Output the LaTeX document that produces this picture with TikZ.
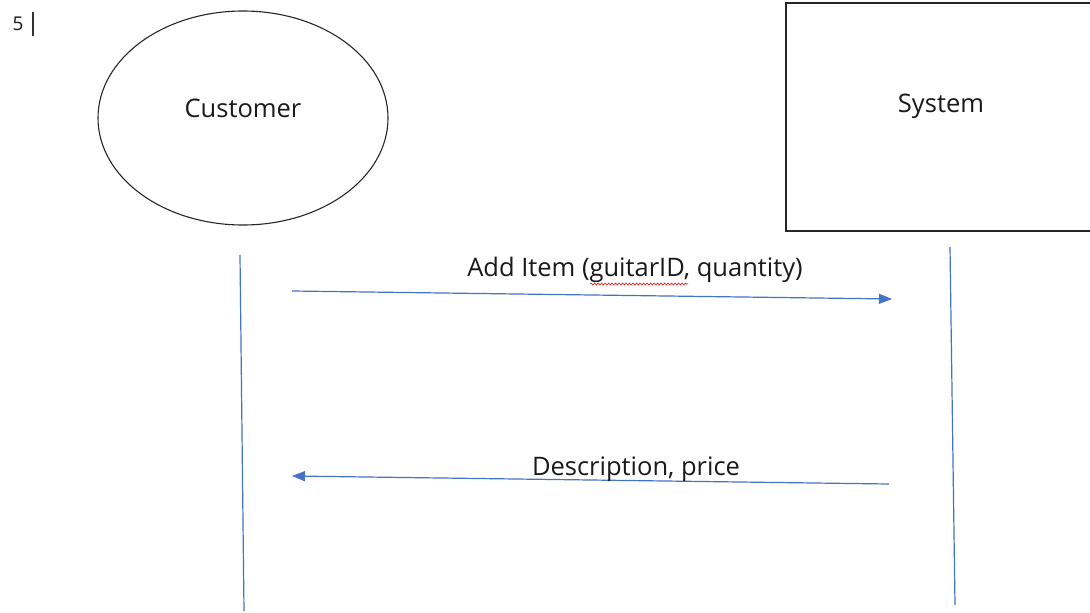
\documentclass[tikz,border=0pt]{standalone}
\usepackage{fontspec}
\setmainfont{Open Sans}
\usetikzlibrary{arrows.meta,decorations.pathmorphing}
\definecolor{lineblue}{HTML}{4472C4}
\definecolor{txt}{HTML}{1A1A1A}
\tikzset{
  lbl/.style={font=\fontsize{25.5}{30}\selectfont, text=txt, inner sep=0pt},
  small/.style={font=\fontsize{19}{23}\selectfont, text=txt, inner sep=0pt},
  life/.style={draw=lineblue, line width=1.2pt},
  msg/.style={draw=lineblue, line width=1.2pt, -{Triangle[length=13pt,width=10pt]}},
}
\begin{document}
\begin{tikzpicture}[x=1pt,y=-1pt]
\useasboundingbox[fill=white] (0,0) rectangle (1090,613);
% page number marker
\node[small, anchor=center] (num) at (18,24) {5};
\draw[line width=1.2pt, black!80] (33,12) -- (33,36);
% actors
\draw[line width=1.1pt, black!85] (243,118) ellipse [x radius=145, y radius=107];
\node[lbl] (cust) at (243,108) {Customer};
\draw[line width=1.4pt, black!85] (786,3) rectangle (1100,231);
\node[lbl] (sys) at (941,106) {System};
% lifelines
\coordinate (l1a) at (240,255);
\coordinate (l1b) at (244,611);
\coordinate (l2a) at (950,247);
\coordinate (l2b) at (955,605);
\draw[life] (l1a) -- (l1b);
\draw[life] (l2a) -- (l2b);
% messages
\coordinate (m1a) at (292,291);
\coordinate (m1b) at (892,299);
\coordinate (m2a) at (889,484);
\coordinate (m2b) at (292,476);
\draw[msg] (m1a) -- (m1b);
\draw[msg] (m2a) -- (m2b);
\node[lbl] (lab1) at (635,270) {Add Item (guitarID, quantity)};
\node[lbl] (lab2) at (636,469) {Description, price};
% spell-check underline
\draw[red, line width=0.6pt, decorate, decoration={snake, amplitude=1pt, segment length=3.5pt}] (590,284) -- (688,284);
\end{tikzpicture}
\end{document}
